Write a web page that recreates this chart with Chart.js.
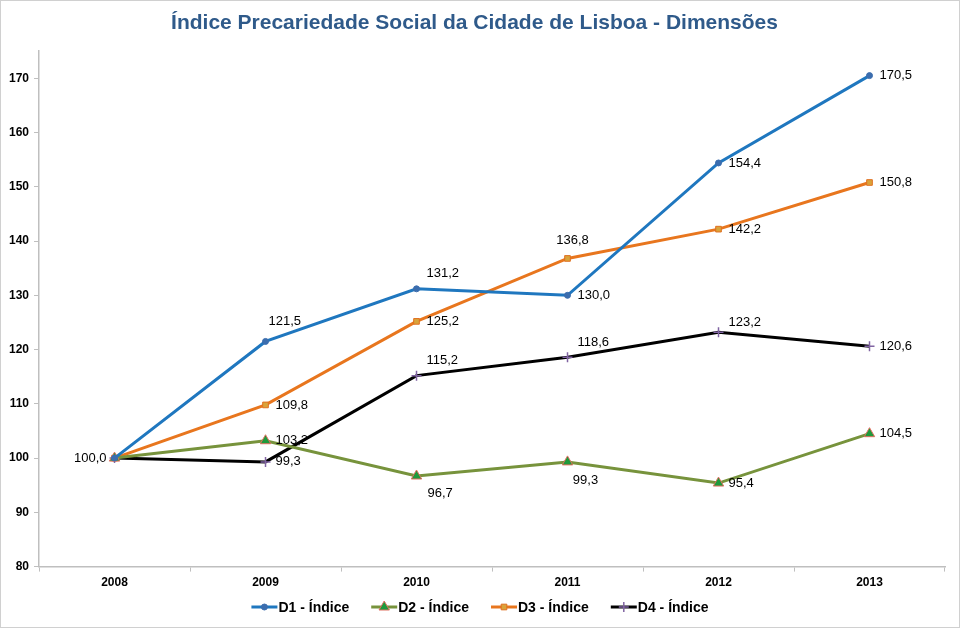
<!DOCTYPE html>
<html><head><meta charset="utf-8">
<script src="https://cdn.jsdelivr.net/npm/chart.js@4/dist/chart.umd.min.js"></script>
<style>
html,body{margin:0;padding:0;background:#fff;}
#wrap{position:relative;width:960px;height:628px;box-sizing:border-box;border:1px solid #d0d0d0;}
canvas{display:block;}
</style></head>
<body><div id="wrap"><canvas id="c" width="958" height="626"></canvas></div>
<script>
const categories = ['2008','2009','2010','2011','2012','2013'];
const d1 = [100.0,121.5,131.2,130.0,154.4,170.5];
const d2 = [100.0,103.2,96.7,99.3,95.4,104.5];
const d3 = [100.0,109.8,125.2,136.8,142.2,150.8];
const d4 = [100.0,99.3,115.2,118.6,123.2,120.6];
const seriesNames = ['D1 - Índice','D2 - Índice','D3 - Índice','D4 - Índice'];
const titleText = 'Índice Precariedade Social da Cidade de Lisboa - Dimensões';
// label placement keywords per point (style only)
const place1 = ['l','ua','ur','r','r','r'];
const place2 = ['none','r','dr','d','r','r'];
const place3 = ['none','r','r','u','r','r'];
const place4 = ['none','r','ur','ur','ur2','r'];

const FONT = '"Liberation Sans", Arial, sans-serif';
const fmt = v => v.toFixed(1).replace('.', ',');

const ds = [
  {label:seriesNames[0],data:d1,borderColor:'#1F77BF',backgroundColor:'#3B6DAE',pointBackgroundColor:'#3B6DAE',pointBorderColor:'#3B6DAE',pointBorderWidth:1,pointStyle:'circle',pointRadius:3,borderWidth:3,place:place1},
  {label:seriesNames[1],data:d2,borderColor:'#77933C',backgroundColor:'#1E9A3C',pointBackgroundColor:'#1E9A3C',pointBorderColor:'#E07060',pointBorderWidth:1,pointStyle:'triangle',pointRadius:6,borderWidth:3,place:place2},
  {label:seriesNames[2],data:d3,borderColor:'#E8761E',backgroundColor:'#D9A33A',pointBackgroundColor:'#D9A33A',pointBorderColor:'#E07020',pointBorderWidth:1,pointStyle:'rect',pointRadius:4,borderWidth:3,place:place3},
  {label:seriesNames[3],data:d4,borderColor:'#000000',backgroundColor:'#8064A2',pointBackgroundColor:'#8064A2',pointBorderColor:'#8064A2',pointBorderWidth:1.5,pointStyle:'cross',pointRadius:5,borderWidth:3,place:place4}
];
ds.forEach(d=>{d.tension=0;d.fill=false;d.pointHoverRadius=d.pointRadius;});

const labelPlugin = {
  id:'vlabels',
  afterDatasetsDraw(chart){
    const ctx = chart.ctx;
    ctx.save();
    ctx.font = '13px ' + FONT;
    ctx.fillStyle = '#000';
    chart.data.datasets.forEach((d,di)=>{
      const meta = chart.getDatasetMeta(di);
      meta.data.forEach((pt,i)=>{
        const p = d.place[i];
        if(p==='none') return;
        const t = fmt(d.data[i]);
        let x = pt.x, y = pt.y;
        ctx.textBaseline='middle';
        if(p==='r'){ctx.textAlign='left';x+=10;}
        else if(p==='l'){ctx.textAlign='right';x-=8;}
        else if(p==='ur'){ctx.textAlign='left';x+=10;y-=15;}
        else if(p==='ua'){ctx.textAlign='left';x+=3;y-=20;}
        else if(p==='ur2'){ctx.textAlign='left';x+=10;y-=10;}
        else if(p==='u'){ctx.textAlign='center';x+=5;y-=18;}
        else if(p==='dr'){ctx.textAlign='left';x+=11;y+=17;}
        else if(p==='d'){ctx.textAlign='center';x+=18;y+=19;}
        ctx.fillText(t,x,y);
      });
    });
    ctx.restore();
  }
};

const legendPlugin = {
  id:'lineLegend',
  afterDraw(chart){
    const ctx = chart.ctx;
    ctx.save();
    ctx.font = 'bold 14px ' + FONT;
    const lineW = 26, gapT = 1, gapItem = 22;
    const widths = chart.data.datasets.map(d=>lineW+gapT+ctx.measureText(d.label).width);
    const total = widths.reduce((a,b)=>a+b,0)+gapItem*(widths.length-1);
    let x = chart.width/2 - total/2;
    const y = 606;
    chart.data.datasets.forEach((d,i)=>{
      ctx.strokeStyle=d.borderColor; ctx.lineWidth=3;
      ctx.beginPath(); ctx.moveTo(x,y); ctx.lineTo(x+lineW,y); ctx.stroke();
      ctx.fillStyle=d.pointBackgroundColor; ctx.strokeStyle=d.pointBorderColor; ctx.lineWidth=d.pointBorderWidth||1;
      Chart.helpers.drawPoint(ctx,{pointStyle:d.pointStyle,radius:d.pointRadius,rotation:0,borderWidth:d.pointBorderWidth||1},x+lineW/2,y);
      ctx.fillStyle='#000'; ctx.textAlign='left'; ctx.textBaseline='middle';
      ctx.fillText(d.label,x+lineW+gapT,y+1);
      x += widths[i]+gapItem;
    });
    ctx.restore();
  }
};

new Chart(document.getElementById('c'),{
  type:'line',
  data:{labels:categories,datasets:ds},
  options:{
    responsive:false,animation:false,
    layout:{padding:{left:3,right:14,top:0,bottom:33}},
    plugins:{
      legend:{display:false},tooltip:{enabled:false},
      title:{display:true,text:titleText,color:'#2F5A8A',font:{family:FONT,size:21,weight:'bold'},padding:{top:10,bottom:15}}
    },
    scales:{
      x:{offset:true,
        grid:{offset:true,drawOnChartArea:false,drawTicks:true,tickLength:5,color:'#bfbfbf'},
        border:{color:'#bfbfbf',width:1.5},
        ticks:{color:'#000',font:{family:FONT,size:12,weight:'bold'},padding:4,maxRotation:0}},
      y:{min:80,max:175,
        afterBuildTicks(s){s.ticks=s.ticks.filter(t=>t.value%10===0);},
        grid:{drawOnChartArea:false,drawTicks:true,tickLength:5,color:'#bfbfbf'},
        border:{color:'#bfbfbf',width:1.5},
        ticks:{stepSize:10,color:'#000',font:{family:FONT,size:12,weight:'bold'},padding:5}}
    }
  },
  plugins:[labelPlugin,legendPlugin]
});
</script></body></html>
